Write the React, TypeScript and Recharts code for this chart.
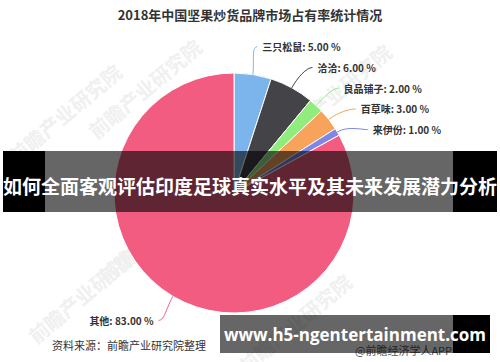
import React from 'react';
import { PieChart, Pie, Cell } from 'recharts';

const brands = ['三只松鼠', '洽洽', '良品铺子', '百草味', '来伊份', '其他'];
const shares = [5, 6, 2, 3, 1, 83];
const colors = ['#7cb5ec', '#434348', '#90ed7d', '#f7a35c', '#8085e9', '#f15c80'];

const titleText = '2018年中国坚果炒货品牌市场占有率统计情况';
const bannerText = '如何全面客观评估印度足球真实水平及其未来发展潜力分析';
const sourceText = '资料来源：前瞻产业研究院整理';
const siteText = 'www.h5-ngentertainment.com';
const appText = '@前瞻经济学人APP';
const watermark = '前瞻产业研究院';

const data = brands.map((name, i) => ({ name, value: shares[i] }));

const RAD = Math.PI / 180;
const OUTER = 120;
const LABEL_DIST = 28;
const GAP = 20.7;

// Highcharts-like label distribution: natural y on label circle, pushed apart
function computeLabelOffsets(): number[] {
  const total = shares.reduce((a, b) => a + b, 0);
  let cum = 0;
  const mids = shares.map((v) => {
    const m = 90 - ((cum + v / 2) / total) * 360;
    cum += v;
    return m;
  });
  const R = OUTER + LABEL_DIST;
  const rel = mids.map((a) => -Math.sin(a * RAD) * R);
  const out = rel.slice();
  const sides = [
    mids.map((a, i) => i).filter((i) => Math.cos(mids[i] * RAD) >= 0),
    mids.map((a, i) => i).filter((i) => Math.cos(mids[i] * RAD) < 0),
  ];
  sides.forEach((idx) => {
    const sorted = idx.slice().sort((a, b) => rel[a] - rel[b]);
    for (let k = 1; k < sorted.length; k++) {
      const prev = out[sorted[k - 1]];
      if (out[sorted[k]] < prev + GAP) out[sorted[k]] = prev + GAP;
    }
  });
  return out;
}
const labelOffsets = computeLabelOffsets();

const renderLabel = (props: any) => {
  const { cx, cy, midAngle, outerRadius, index, name, value } = props;
  const c = Math.cos(-midAngle * RAD);
  const s = Math.sin(-midAngle * RAD);
  const sign = c >= 0 ? 1 : -1;
  const R = outerRadius + LABEL_DIST;
  const dy = labelOffsets[index];
  const dx = Math.sqrt(Math.max(R * R - dy * dy, 0));
  const ex = cx + sign * dx;
  const ey = cy + dy;
  const sx = cx + outerRadius * c;
  const sy = cy + outerRadius * s;
  const ox = cx + (outerRadius + 12) * c;
  const oy = cy + (outerRadius + 12) * s;
  const d = `M${sx},${sy} C${ox},${oy} ${ex - 6 * sign},${ey} ${ex},${ey}`;
  return (
    <g key={`lbl-${index}`}>
      <path d={d} stroke={colors[index]} strokeWidth={1} fill="none" />
      <text
        x={ex + 5 * sign}
        y={ey}
        textAnchor={sign > 0 ? 'start' : 'end'}
        dominantBaseline="central"
        fontSize={10}
        fontWeight="bold"
        fill="#333"
        fontFamily="'Noto Sans CJK SC', 'Noto Sans', sans-serif"
      >
        {`${name}: ${Number(value).toFixed(2)} %`}
      </text>
    </g>
  );
};

const wmPositions = [
  { x: 70, y: 120 },
  { x: 150, y: 95 },
  { x: 340, y: 100 },
  { x: 160, y: 240 },
  { x: 90, y: 300 },
  { x: 300, y: 330 },
];

export default function App() {
  return (
    <div
      style={{
        position: 'fixed',
        left: 0,
        top: 0,
        width: 500,
        height: 362,
        background: '#fff',
        overflow: 'hidden',
        fontFamily: "'Noto Sans CJK SC', 'Noto Sans', sans-serif",
      }}
    >
      <svg width={500} height={362} style={{ position: 'absolute', left: 0, top: 0 }}>
        {wmPositions.map((p, i) => (
          <text
            key={i}
            x={p.x}
            y={p.y}
            fontSize={20}
            fontWeight="bold"
            fill="#f0f0f0"
            textAnchor="middle"
            transform={`rotate(-40 ${p.x} ${p.y})`}
          >
            {watermark}
          </text>
        ))}
      </svg>
      <div style={{ position: 'absolute', left: 0, top: 0 }}>
        <PieChart width={500} height={362} margin={{ top: 0, right: 0, bottom: 0, left: 0 }}>
          <Pie
            data={data}
            dataKey="value"
            nameKey="name"
            cx={234}
            cy={193}
            outerRadius={OUTER}
            startAngle={90}
            endAngle={-270}
            stroke="#fff"
            strokeWidth={1}
            label={renderLabel}
            labelLine={false}
            isAnimationActive={false}
          >
            {data.map((d, i) => (
              <Cell key={d.name} fill={colors[i]} />
            ))}
          </Pie>
        </PieChart>
      </div>
      <div
        style={{
          position: 'absolute',
          left: 0,
          top: 6,
          width: 500,
          textAlign: 'center',
          fontSize: 13,
          fontWeight: 'bold',
          color: '#333',
          lineHeight: '18px',
        }}
      >
        {titleText}
      </div>
      <div
        style={{
          position: 'absolute',
          left: 52,
          top: 337,
          fontSize: 11,
          color: '#333',
          lineHeight: '16px',
        }}
      >
        {sourceText}
      </div>
      <div
        style={{
          position: 'absolute',
          left: 355,
          top: 343,
          fontSize: 11,
          color: '#555',
          lineHeight: '14px',
        }}
      >
        {appText}
      </div>
      {/* banner */}
      <div style={{ position: 'absolute', left: 3, top: 151, width: 42, height: 61, background: '#000' }} />
      <div style={{ position: 'absolute', left: 45, top: 151, width: 408, height: 61, background: 'rgba(0,0,0,0.6)' }} />
      <div style={{ position: 'absolute', left: 453, top: 151, width: 44, height: 61, background: '#000' }} />
      <div
        style={{
          position: 'absolute',
          left: 0,
          top: 174,
          width: 500,
          textAlign: 'center',
          fontSize: 19,
          fontWeight: 'bold',
          color: '#fff',
          lineHeight: '24px',
          whiteSpace: 'nowrap',
        }}
      >
        {bannerText}
      </div>
      {/* bottom box */}
      <div style={{ position: 'absolute', left: 220, top: 315, width: 233, height: 38, background: 'rgba(0,0,0,0.6)' }} />
      <div style={{ position: 'absolute', left: 453, top: 315, width: 37, height: 38, background: '#000' }} />
      <div
        style={{
          position: 'absolute',
          left: 220,
          top: 323,
          width: 270,
          textAlign: 'center',
          fontSize: 17,
          fontWeight: 'bold',
          color: '#fff',
          lineHeight: '24px',
          whiteSpace: 'nowrap',
          fontFamily: "'Open Sans', 'Noto Sans', sans-serif",
        }}
      >
        {siteText}
      </div>
    </div>
  );
}
